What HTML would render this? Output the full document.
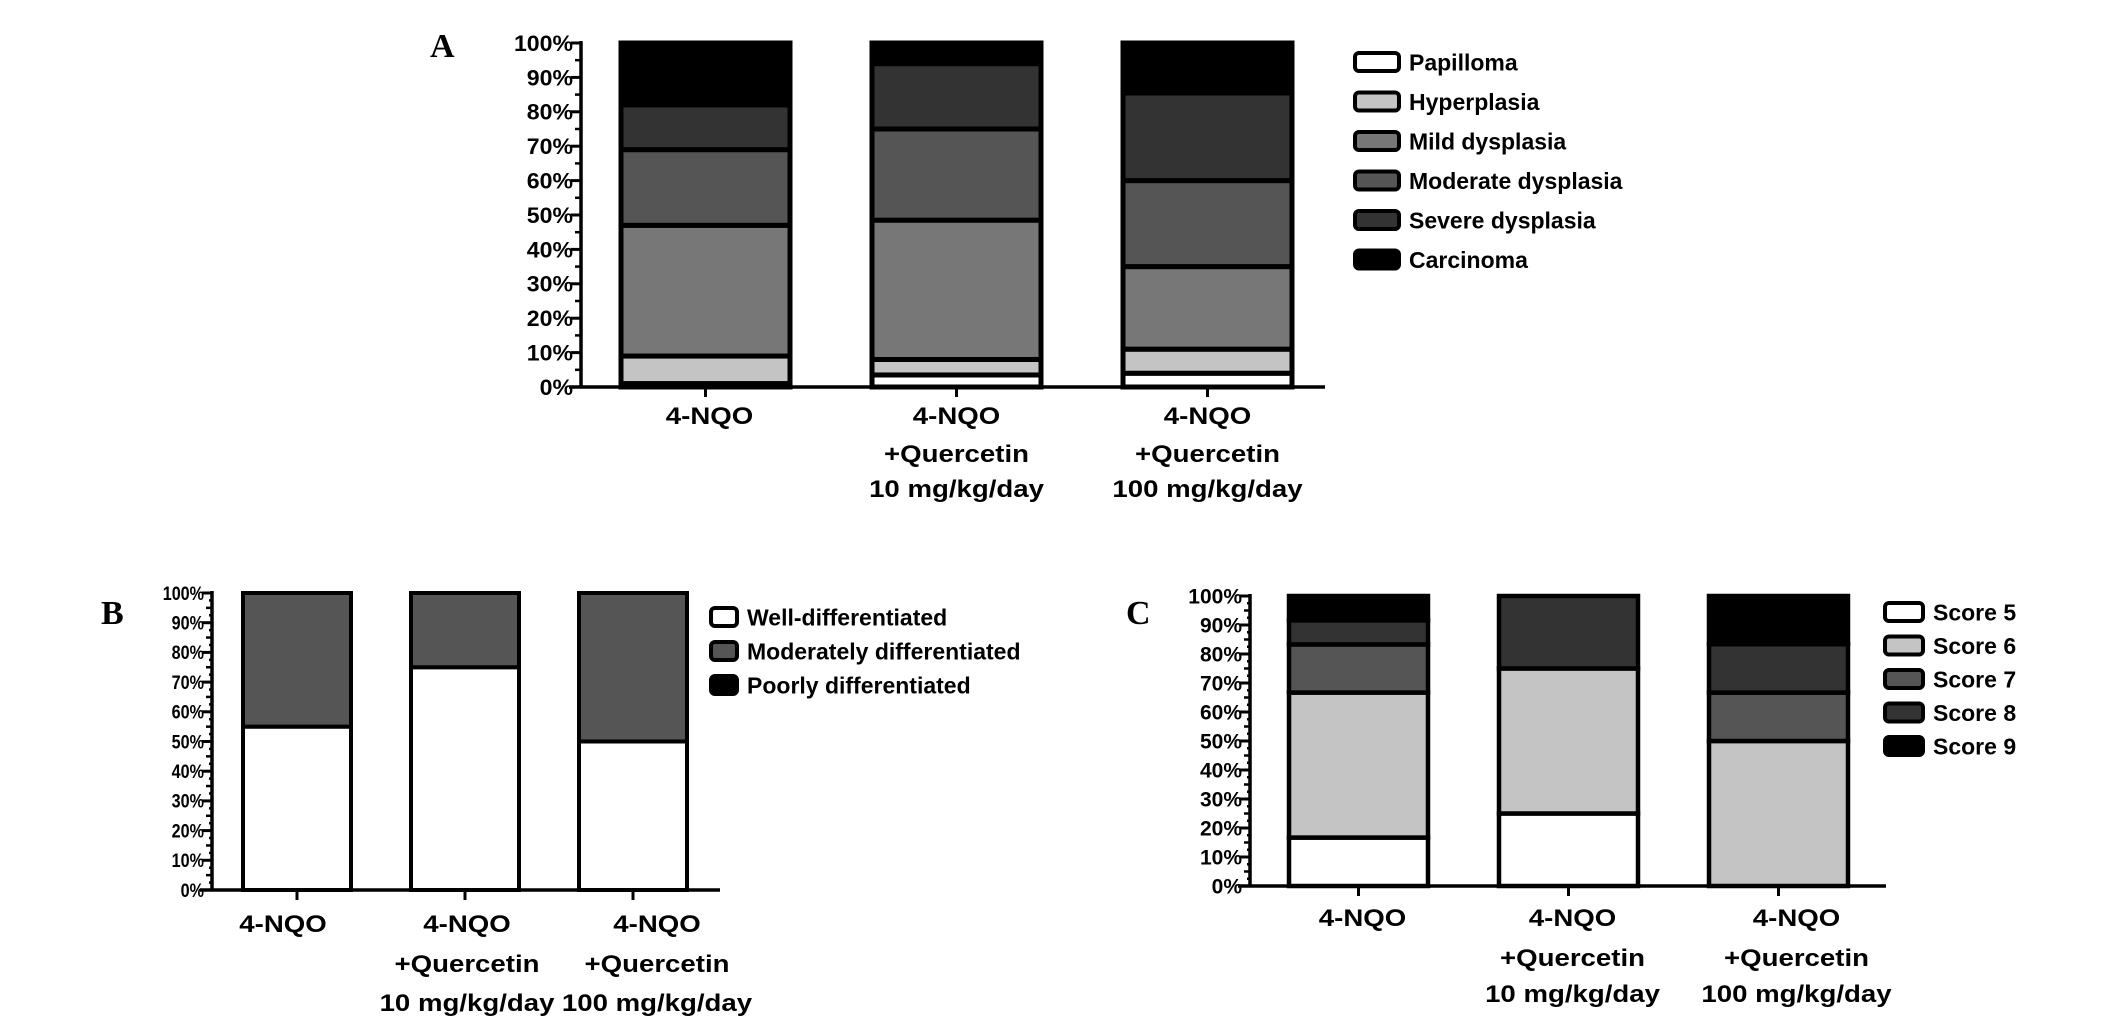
<!DOCTYPE html>
<html><head><meta charset="utf-8"><style>
html,body{margin:0;padding:0;background:#fff;}
svg{display:block;}
text{font-family:"Liberation Sans",Arial,sans-serif;font-weight:bold;fill:#000;}
.panel{font-family:"Liberation Serif","Times New Roman",serif;font-size:34px;}
</style></head><body>
<svg id="fig" width="2126" height="1021" viewBox="0 0 2126 1021" xmlns="http://www.w3.org/2000/svg">
<text class="panel" x="430" y="57">A</text>
<text class="panel" x="101" y="624">B</text>
<text class="panel" x="1126" y="624">C</text>
</svg>
<script>
// ---- shared data ----
const groups = ["4-NQO", "4-NQO +Quercetin 10 mg/kg/day", "4-NQO +Quercetin 100 mg/kg/day"];
const groupLines = [["4-NQO"], ["4-NQO", "+Quercetin", "10 mg/kg/day"], ["4-NQO", "+Quercetin", "100 mg/kg/day"]];
const yTicks = [0, 10, 20, 30, 40, 50, 60, 70, 80, 90, 100];
const yTickLabels = ["0%", "10%", "20%", "30%", "40%", "50%", "60%", "70%", "80%", "90%", "100%"];

// ---- panel A ----
const aSeries = ["Papilloma", "Hyperplasia", "Mild dysplasia", "Moderate dysplasia", "Severe dysplasia", "Carcinoma"];
const aPapilloma = [1, 3.5, 4];
const aHyperplasia = [8, 4.5, 7];
const aMild = [38, 40.5, 24];
const aModerate = [22, 26.5, 25];
const aSevere = [13, 19, 25.5];
const aCarcinoma = [18, 6, 14.5];

// ---- panel B ----
const bSeries = ["Well-differentiated", "Moderately differentiated", "Poorly differentiated"];
const bWell = [55, 75, 50];
const bModerate = [45, 25, 50];
const bPoor = [0, 0, 0];

// ---- panel C ----
const cSeries = ["Score 5", "Score 6", "Score 7", "Score 8", "Score 9"];
const cScore5 = [16.7, 25, 0];
const cScore6 = [50, 50, 50];
const cScore7 = [16.6, 0, 16.7];
const cScore8 = [8.3, 25, 16.7];
const cScore9 = [8.4, 0, 16.6];

const svg = document.getElementById('fig');
const NS = 'http://www.w3.org/2000/svg';
function mk(tag, attrs, parent) {
  const e = document.createElementNS(NS, tag);
  for (const k in attrs) e.setAttribute(k, attrs[k]);
  (parent || svg).appendChild(e);
  return e;
}

function drawChart(cfg) {
  const g = mk('g', {});
  
  
  const y = v => cfg.y0 + (cfg.y100 - cfg.y0) * v / 100;
  const xc = i => cfg.barX0 + i * cfg.pitch + cfg.barW / 2;
  const ax = mk('line', {x1: cfg.axX, y1: y(100) - 2, x2: cfg.axX, y2: y(0), stroke: '#000', 'stroke-width': 3.5}, g);
  
  
  for (let v = 0; v <= 100; v += 2.5) {
    const major = v % 10 === 0, mid = v % 5 === 0;
    const len = major ? 10 : (mid ? 6 : 3);
    if (!mid && !cfg.fine) continue;
    mk('line', {x1: cfg.axX - len, y1: y(v), x2: cfg.axX, y2: y(v), stroke: '#000', 'stroke-width': major ? 3 : 2.5}, g);
  }
  yTicks.forEach((v, i) => {
    const t = mk('text', {x: 0, y: 0, 'text-anchor': 'end', 'font-size': cfg.tickFs,
      transform: `translate(${cfg.axX - 8},${y(v) + cfg.tickFs * 0.36}) scale(${cfg.tickSx},1)`}, g);
    t.textContent = yTickLabels[i];
    
    
  });
  const xa = mk('line', {x1: cfg.axX - 12, y1: y(0), x2: cfg.axEnd, y2: y(0), stroke: '#000', 'stroke-width': 3.5}, g);
  
  
  groups.forEach((grp, i) => {
    mk('line', {x1: xc(i), y1: y(0), x2: xc(i), y2: y(0) + 10, stroke: '#000', 'stroke-width': 3}, g);
    groupLines[i].forEach((ln, j) => {
      const t = mk('text', {x: 0, y: 0, 'text-anchor': 'middle', 'font-size': 24,
        transform: `translate(${xc(i) + cfg.labOff[i]},${cfg.labY[j]}) scale(1.15,1)`}, g);
      t.textContent = ln;
      
      
    });
  });
  groups.forEach((grp, i) => {
    let cum = 0;
    cfg.values.forEach((arr, s) => {
      const v = arr[i];
      if (v <= 0) return;
      const r = mk('rect', {x: cfg.barX0 + i * cfg.pitch + 2, y: y(cum + v), width: cfg.barW - 4,
        height: y(cum) - y(cum + v), fill: cfg.colors[s], stroke: '#000', 'stroke-width': cfg.sw}, g);
      
      
      cum += v;
    });
  });
  cfg.series.forEach((name, s) => {
    const cy = cfg.legY0 + s * cfg.legDy;
    const b = mk('rect', {x: cfg.legX, y: cy - 9, width: cfg.legW, height: 18, rx: 4, fill: cfg.colors[s], stroke: '#000', 'stroke-width': 4}, g);
    
    
    const t = mk('text', {x: cfg.legX + cfg.legW + 10, y: cy + cfg.legFs * 0.36, 'font-size': cfg.legFs}, g);
    t.textContent = name;
    
    
  });
}

drawChart({id: 'a', axX: 581, y0: 387, y100: 43, axEnd: 1325, barX0: 619, barW: 173, pitch: 251, sw: 5,
  values: [aPapilloma, aHyperplasia, aMild, aModerate, aSevere, aCarcinoma],
  colors: ['#ffffff', '#c4c4c4', '#777777', '#555555', '#333333', '#000000'],
  series: aSeries, tickFs: 22, tickSx: 1.05, fine: false, labOff: [4, 0, 0], labY: [424, 462, 497],
  legX: 1355, legW: 44, legY0: 62, legDy: 39.5, legFs: 23});

drawChart({id: 'b', axX: 212, y0: 890, y100: 593, axEnd: 720, barX0: 241, barW: 112, pitch: 168, sw: 4,
  values: [bWell, bModerate, bPoor],
  colors: ['#ffffff', '#555555', '#000000'],
  series: bSeries, tickFs: 19, tickSx: 0.85, fine: true, labOff: [-14, 2, 24], labY: [932, 972, 1011],
  legX: 711, legW: 26, legY0: 617, legDy: 34, legFs: 23});

drawChart({id: 'c', axX: 1250, y0: 886, y100: 596, axEnd: 1886, barX0: 1287, barW: 143, pitch: 210, sw: 4.5,
  values: [cScore5, cScore6, cScore7, cScore8, cScore9],
  colors: ['#ffffff', '#c4c4c4', '#555555', '#333333', '#000000'],
  series: cSeries, tickFs: 21, tickSx: 1.0, fine: true, labOff: [4, 4, 18], labY: [926, 966, 1002],
  legX: 1885, legW: 38, legY0: 612, legDy: 33.5, legFs: 23});
</script>
</body></html>
